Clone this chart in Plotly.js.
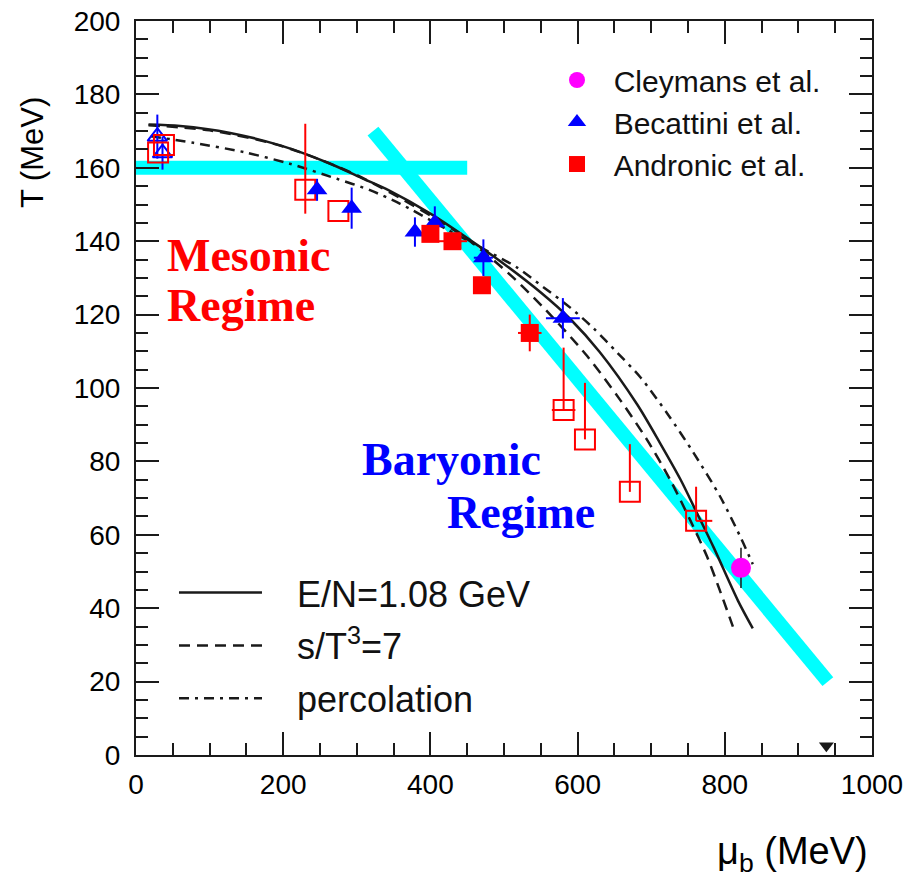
<!DOCTYPE html>
<html><head><meta charset="utf-8">
<script src="https://cdn.plot.ly/plotly-3.0.1.min.js"></script>
<style>body{margin:0;background:#fff}#chart{width:910px;height:883px}</style>
</head><body><div id="chart"></div>
<script>
// ---- data (MeV) ----
const mesonicBandMu = [0, 450];
const mesonicBandT = [160, 160];
const baryonicBandMu = [322, 940];
const baryonicBandT = [170, 20];

const solidMu = [17, 60, 128, 196, 264, 309, 343, 400, 454, 500, 550, 590, 630, 681, 712, 740, 762, 785, 818, 838];
const solidT  = [171.8, 171.4, 169.5, 166.1, 161.1, 157, 153.9, 147.5, 140.3, 133.8, 126, 118.8, 109.8, 95.5, 85, 75, 66, 56.5, 42, 34.5];

const dashMu = [17, 100, 200, 300, 400, 454, 513, 558, 613, 658, 694, 726, 753, 776, 793, 811];
const dashT  = [171.6, 170.2, 165.8, 158, 147, 140, 130, 121, 108.7, 96.7, 86, 74.9, 64, 54, 45, 35];

const percMu = [20, 78, 146, 209, 273, 318, 359, 420, 470, 518, 554, 590, 622, 654, 685, 722, 758, 794, 821, 838];
const percT  = [168.6, 166.8, 164.3, 161.1, 157, 153.9, 150.2, 143.5, 138.1, 132.8, 127.4, 121.9, 116.2, 109.6, 103, 93, 82.2, 70.3, 59.5, 52];

const cleymansMu = [822];
const cleymansT = [51];
const cleymansErrT = [5.5];

const becattiniMu = [246, 293, 379, 406, 472, 580];
const becattiniT = [154, 149, 142.5, 145, 135.5, 119];
const becattiniErrT = [3, 5.6, 4, 4.5, 5, 5.5];
const becattiniErrMu = [0, 0, 0, 0, 13, 23];

const becattiniOpenMu = [29, 36];
const becattiniOpenT = [168.5, 164];
const becattiniOpenErrT = [6, 4.5];

const andronicMu = [400, 430, 470, 535];
const andronicT = [142, 140, 128, 115];
const andronicErrT = [2, 2, 2, 5];
const andronicErrMu = [0, 20, 0, 16];

const andronicOpenMu = [30, 38, 230, 275, 581, 610, 671, 761];
const andronicOpenT = [164.2, 166.2, 154, 148.2, 94, 86, 71.7, 63.8];
const andronicOpenErrTPlus = [0, 0, 18, 0, 17, 15.4, 13, 9.3];
const andronicOpenErrTMinus = [0, 0, 6.5, 0, 0, 0, 0, 0];
const andronicOpenErrMuPlus = [0, 0, 0, 0, 16, 0, 0, 22];
const andronicOpenErrMuMinus = [0, 0, 0, 0, 16, 0, 0, 0];

const nucleonMu = [938];
const nucleonT = [2.5];

const legendNames = ['Cleymans et al.', 'Becattini et al.', 'Andronic et al.'];
const curveNames = ['E/N=1.08 GeV', 's/T<sup>3</sup>=7', 'percolation'];

// ---- styling ----
const CYAN = '#00ffff', RED = '#ff0000', BLUE = '#0000ff', MAG = '#ff00ff', INK = '#1a1a1a';
const SANS = 'Liberation Sans, Arial, Helvetica, sans-serif';
const SERIF = 'Liberation Serif, Times New Roman, serif';
const pad = s => '\u00a0\u00a0' + s;
const pad2 = s => '\u00a0\u00a0\u00a0' + s;

const traces = [
  {x: mesonicBandMu, y: mesonicBandT, mode: 'lines', line: {color: CYAN, width: 14}, showlegend: false, hoverinfo: 'skip'},
  {x: baryonicBandMu, y: baryonicBandT, mode: 'lines', line: {color: CYAN, width: 14}, showlegend: false, hoverinfo: 'skip'},
  {x: solidMu, y: solidT, mode: 'lines', name: pad2(curveNames[0]), legend: 'legend2', legendgroup: 'c1',
   line: {color: INK, width: 2.5, shape: 'spline', smoothing: 0.8}},
  {x: dashMu, y: dashT, mode: 'lines', name: pad2(curveNames[1]), legend: 'legend2', legendgroup: 'c2',
   line: {color: INK, width: 2.5, dash: '11px,7px', shape: 'spline', smoothing: 0.8}},
  {x: percMu, y: percT, mode: 'lines', name: pad2(curveNames[2]), legend: 'legend2', legendgroup: 'c3',
   line: {color: INK, width: 2.5, dash: '10px,6px,3px,6px', shape: 'spline', smoothing: 0.8}},
  {x: becattiniOpenMu, y: becattiniOpenT, mode: 'markers', showlegend: false,
   marker: {symbol: 'triangle-up-open', size: 17, color: BLUE, line: {width: 2, color: BLUE}},
   error_y: {type: 'data', array: becattiniOpenErrT, color: BLUE, thickness: 2, width: 0}},
  {x: andronicOpenMu, y: andronicOpenT, mode: 'markers', showlegend: false,
   marker: {symbol: 'square-open', size: 20, color: RED, line: {width: 2, color: RED}},
   error_y: {type: 'data', array: andronicOpenErrTPlus, arrayminus: andronicOpenErrTMinus, symmetric: false, color: RED, thickness: 2, width: 0},
   error_x: {type: 'data', array: andronicOpenErrMuPlus, arrayminus: andronicOpenErrMuMinus, symmetric: false, color: RED, thickness: 2, width: 0}},
  {x: cleymansMu, y: cleymansT, mode: 'markers', name: pad(legendNames[0]), legend: 'legend',
   marker: {symbol: 'circle', size: 20, color: MAG},
   error_y: {type: 'data', array: cleymansErrT, color: INK, thickness: 1.5, width: 0}},
  {x: becattiniMu, y: becattiniT, mode: 'markers', name: pad(legendNames[1]), legend: 'legend',
   marker: {symbol: 'triangle-up', size: 18, color: BLUE},
   error_y: {type: 'data', array: becattiniErrT, color: BLUE, thickness: 2, width: 0},
   error_x: {type: 'data', array: becattiniErrMu, color: BLUE, thickness: 2, width: 0}},
  {x: andronicMu, y: andronicT, mode: 'markers', name: pad(legendNames[2]), legend: 'legend',
   marker: {symbol: 'square', size: 18, color: RED},
   error_y: {type: 'data', array: andronicErrT, color: RED, thickness: 2, width: 0},
   error_x: {type: 'data', array: andronicErrMu, color: RED, thickness: 2, width: 0}},
  {x: nucleonMu, y: nucleonT, mode: 'markers', showlegend: false,
   marker: {symbol: 'triangle-down', size: 13, color: INK}}
];

const axisCommon = {
  ticks: 'inside', ticklen: 23, tickwidth: 2, tickcolor: INK,
  mirror: 'allticks', showline: true, linecolor: INK, linewidth: 2,
  showgrid: false, zeroline: false,
  tickfont: {family: SANS, size: 28, color: '#000'}
};

const layout = {
  width: 910, height: 883,
  margin: {l: 136, r: 38, t: 21, b: 128},
  paper_bgcolor: '#fff', plot_bgcolor: '#fff',
  xaxis: Object.assign({}, axisCommon, {range: [0, 1000], tick0: 0, dtick: 200,
    ticklabelstandoff: 3,
    minor: {dtick: 50, ticks: 'inside', ticklen: 12, tickwidth: 2, tickcolor: INK, showgrid: false}}),
  yaxis: Object.assign({}, axisCommon, {range: [0, 200], tick0: 0, dtick: 20,
    ticklabelstandoff: 8,
    minor: {dtick: 5, ticks: 'inside', ticklen: 12, tickwidth: 2, tickcolor: INK, showgrid: false}}),
  legend: {x: 0.572, y: 0.955, xanchor: 'left', yanchor: 'top', bgcolor: 'rgba(0,0,0,0)',
    font: {family: SANS, size: 30, color: '#111'}, itemwidth: 30},
  legend2: {x: 0.0516, y: 0.262, xanchor: 'left', yanchor: 'top', bgcolor: 'rgba(0,0,0,0)',
    font: {family: SANS, size: 36, color: '#111'}, itemwidth: 83, tracegroupgap: 3},
  annotations: [
    {text: '<b>Mesonic</b>', x: 39, y: 136, xref: 'x', yref: 'y', xanchor: 'left', yanchor: 'middle', showarrow: false,
     font: {family: SERIF, size: 46, color: RED}},
    {text: '<b>Regime</b>', x: 39, y: 122.5, xref: 'x', yref: 'y', xanchor: 'left', yanchor: 'middle', showarrow: false,
     font: {family: SERIF, size: 46, color: RED}},
    {text: '<b>Baryonic</b>', x: 305, y: 80.6, xref: 'x', yref: 'y', xanchor: 'left', yanchor: 'middle', showarrow: false,
     font: {family: SERIF, size: 46, color: BLUE}},
    {text: '<b>Regime</b>', x: 420, y: 66, xref: 'x', yref: 'y', xanchor: 'left', yanchor: 'middle', showarrow: false,
     font: {family: SERIF, size: 46, color: BLUE}},
    {text: 'T (MeV)', x: -0.1413, y: 0.82, xref: 'paper', yref: 'paper', xanchor: 'center', yanchor: 'middle',
     textangle: -90, showarrow: false, font: {family: SANS, size: 31, color: '#000'}},
    {text: '\u03bc<sub>b</sub> (MeV)', x: 0.997, y: -0.135, xref: 'paper', yref: 'paper', xanchor: 'right', yanchor: 'middle',
     showarrow: false, font: {family: SANS, size: 38, color: '#000'}}
  ]
};

Plotly.newPlot('chart', traces, layout, {displayModeBar: false, staticPlot: true});
</script></body></html>
